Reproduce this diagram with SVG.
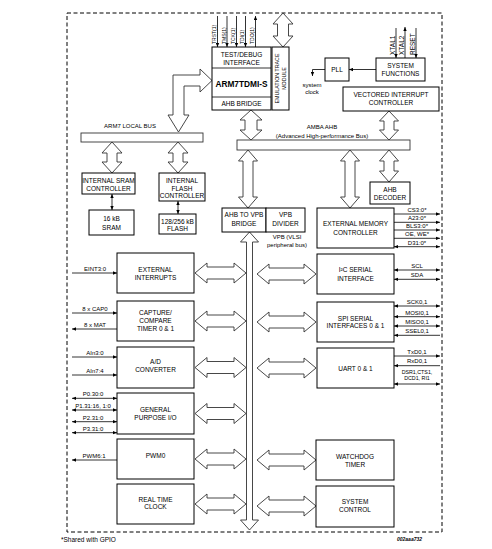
<svg xmlns="http://www.w3.org/2000/svg" width="492" height="549" viewBox="0 0 492 549">
<defs>
<style>
text{font-family:"Liberation Sans",Arial,sans-serif;fill:#000}
.b{font-size:6.5px;text-anchor:middle}
.s{font-size:6px;text-anchor:middle}
.p{font-size:5px}
.box{fill:#fff;stroke:#000;stroke-width:1}
.ba{fill:#fff;stroke:#333;stroke-width:0.9;stroke-linejoin:miter}
.ln{stroke:#000;stroke-width:0.8;fill:none}
.bd{fill:none;stroke:#000;stroke-width:1;stroke-dasharray:4 2.5}
</style>
<marker id="ah" viewBox="0 0 6 6" refX="6" refY="3" markerWidth="4" markerHeight="4" orient="auto-start-reverse" markerUnits="userSpaceOnUse"><path d="M0,0.5 L6,3 L0,5.5 z" fill="#000"/></marker>
</defs>
<rect width="492" height="549" fill="#fff"/>
<rect class="bd" x="67" y="13" width="375" height="519"/>

<g id="connectors">
<path class="ba" d="M283,13 L293,24 L288.5,24 L288.5,36 L293,36 L283,47 L273,36 L277.5,36 L277.5,24 L273,24 Z"/>
<path class="ba" d="M251,110 L262,120 L257,120 L257,130 L262,130 L251,140 L240,130 L245,130 L245,120 L240,120 Z"/>
<path class="ba" d="M248,150 L257.5,161 L253,161 L253,197 L257.5,197 L248,208 L238.5,197 L243,197 L243,161 L238.5,161 Z"/>
<path class="ba" d="M350,150 L359.5,161 L355,161 L355,197 L359.5,197 L350,208 L340.5,197 L345,197 L345,161 L340.5,161 Z"/>
<path class="ba" d="M389,150 L398.5,161 L394,161 L394,171 L398.5,171 L389,182 L379.5,171 L384,171 L384,161 L379.5,161 Z"/>
<path class="ba" d="M389,111 L398.5,121 L394,121 L394,130 L398.5,130 L389,140 L379.5,130 L384,130 L384,121 L379.5,121 Z"/>
<path class="ba" d="M112,142 L122,153 L117,153 L117,162 L122,162 L112,173 L102,162 L107,162 L107,153 L102,153 Z"/>
<path class="ba" d="M178,142 L188,153 L183,153 L183,162 L188,162 L178,173 L168,162 L173,162 L173,153 L168,153 Z"/>
<path class="ba" d="M212,80.5 L200,69 L200,75 L173,75 L173,115 L168,115 L178.5,132 L189,115 L184,115 L184,86 L200,86 L200,92 Z"/>
<path class="ba" d="M249.5,232 L258.5,242 L252.5,242 L252.5,520 L258.5,520 L249.5,530 L240.5,520 L246.5,520 L246.5,242 L240.5,242 Z"/>
<path class="ba" d="M195,273 L207,263 L207,267 L234,267 L234,263 L246,273 L234,283 L234,279 L207,279 L207,283 Z"/>
<path class="ba" d="M195,321 L207,311 L207,315 L234,315 L234,311 L246,321 L234,331 L234,327 L207,327 L207,331 Z"/>
<path class="ba" d="M195,367.5 L207,357.5 L207,361.5 L234,361.5 L234,357.5 L246,367.5 L234,377.5 L234,373.5 L207,373.5 L207,377.5 Z"/>
<path class="ba" d="M195,413.5 L207,403.5 L207,407.5 L234,407.5 L234,403.5 L246,413.5 L234,423.5 L234,419.5 L207,419.5 L207,423.5 Z"/>
<path class="ba" d="M195,459 L207,449 L207,453 L234,453 L234,449 L246,459 L234,469 L234,465 L207,465 L207,469 Z"/>
<path class="ba" d="M195,504 L207,494 L207,498 L234,498 L234,494 L246,504 L234,514 L234,510 L207,510 L207,514 Z"/>
<path class="ba" d="M257,274 L269,264 L269,268 L304,268 L304,264 L316,274 L304,284 L304,280 L269,280 L269,284 Z"/>
<path class="ba" d="M257,322 L269,312 L269,316 L304,316 L304,312 L316,322 L304,332 L304,328 L269,328 L269,332 Z"/>
<path class="ba" d="M257,368 L269,358 L269,362 L304,362 L304,358 L316,368 L304,378 L304,374 L269,374 L269,378 Z"/>
<path class="ba" d="M257,460 L269,450 L269,454 L304,454 L304,450 L316,460 L304,470 L304,466 L269,466 L269,470 Z"/>
<path class="ba" d="M257,506 L269,496 L269,500 L304,500 L304,496 L316,506 L304,516 L304,512 L269,512 L269,516 Z"/>

<line class="ln" x1="217.5" y1="16" x2="217.5" y2="47" marker-end="url(#ah)"/>
<line class="ln" x1="227" y1="16" x2="227" y2="47" marker-end="url(#ah)"/>
<line class="ln" x1="236.5" y1="16" x2="236.5" y2="47" marker-end="url(#ah)"/>
<line class="ln" x1="245.5" y1="16" x2="245.5" y2="47" marker-end="url(#ah)"/>
<line class="ln" x1="255.5" y1="47" x2="255.5" y2="16" marker-end="url(#ah)"/>
<line class="ln" x1="396" y1="28" x2="396" y2="58" marker-end="url(#ah)"/>
<line class="ln" x1="405" y1="58" x2="405" y2="27" marker-end="url(#ah)"/>
<line class="ln" x1="416" y1="28" x2="416" y2="58" marker-end="url(#ah)"/>
<line class="ln" x1="376" y1="69.5" x2="349" y2="69.5" marker-end="url(#ah)"/>
<polyline class="ln" points="325,69.5 312.5,69.5 312.5,76" marker-end="url(#ah)"/>
<line class="ln" x1="112" y1="194" x2="112" y2="210" marker-start="url(#ah)" marker-end="url(#ah)"/>
<line class="ln" x1="178" y1="201" x2="178" y2="214" marker-start="url(#ah)" marker-end="url(#ah)"/>
<line class="ln" x1="394" y1="214" x2="440" y2="214" marker-end="url(#ah)"/>
<line class="ln" x1="394" y1="222.3" x2="440" y2="222.3" marker-end="url(#ah)"/>
<line class="ln" x1="394" y1="230" x2="440" y2="230" marker-end="url(#ah)"/>
<line class="ln" x1="394" y1="238.3" x2="440" y2="238.3" marker-end="url(#ah)"/>
<line class="ln" x1="394" y1="246.7" x2="440" y2="246.7" marker-start="url(#ah)" marker-end="url(#ah)"/>
<line class="ln" x1="394" y1="270" x2="440" y2="270" marker-start="url(#ah)" marker-end="url(#ah)"/>
<line class="ln" x1="394" y1="279.3" x2="440" y2="279.3" marker-start="url(#ah)" marker-end="url(#ah)"/>
<line class="ln" x1="394" y1="306" x2="440" y2="306" marker-start="url(#ah)" marker-end="url(#ah)"/>
<line class="ln" x1="394" y1="316.7" x2="440" y2="316.7" marker-start="url(#ah)" marker-end="url(#ah)"/>
<line class="ln" x1="394" y1="326" x2="440" y2="326" marker-start="url(#ah)" marker-end="url(#ah)"/>
<line class="ln" x1="440" y1="335.3" x2="394" y2="335.3" marker-end="url(#ah)"/>
<line class="ln" x1="394" y1="356" x2="440" y2="356" marker-end="url(#ah)"/>
<line class="ln" x1="440" y1="365.7" x2="394" y2="365.7" marker-end="url(#ah)"/>
<line class="ln" x1="394" y1="384" x2="440" y2="384" marker-start="url(#ah)" marker-end="url(#ah)"/>
<line class="ln" x1="72" y1="273" x2="117" y2="273" marker-end="url(#ah)"/>
<line class="ln" x1="72" y1="313" x2="117" y2="313" marker-end="url(#ah)"/>
<line class="ln" x1="117" y1="329" x2="72" y2="329" marker-end="url(#ah)"/>
<line class="ln" x1="72" y1="357" x2="117" y2="357" marker-end="url(#ah)" stroke="#777"/>
<line class="ln" x1="72" y1="375" x2="117" y2="375" marker-end="url(#ah)"/>
<line class="ln" x1="72" y1="398.3" x2="117" y2="398.3" marker-start="url(#ah)" marker-end="url(#ah)"/>
<line class="ln" x1="72" y1="410" x2="117" y2="410" marker-start="url(#ah)" marker-end="url(#ah)"/>
<line class="ln" x1="72" y1="421.7" x2="117" y2="421.7" marker-start="url(#ah)" marker-end="url(#ah)"/>
<line class="ln" x1="72" y1="432.7" x2="117" y2="432.7" marker-start="url(#ah)" marker-end="url(#ah)"/>
<line class="ln" x1="117" y1="460" x2="72" y2="460" marker-end="url(#ah)"/>
</g>

<g id="pin-labels">
<text class="p" transform="translate(216,44) rotate(-90)">TRST(1)</text>
<text class="p" transform="translate(225.5,44) rotate(-90)">TMS(1)</text>
<text class="p" transform="translate(235,44) rotate(-90)">TCK(1)</text>
<text class="p" transform="translate(244,44) rotate(-90)">TDI(1)</text>
<text class="p" transform="translate(254,44) rotate(-90)">TDO(1)</text>
<text style="font-size:6.5px" transform="translate(394.5,55) rotate(-90)">XTAL1</text>
<text style="font-size:6.5px" transform="translate(403.5,55) rotate(-90)">XTAL2</text>
<text style="font-size:6.5px" transform="translate(414.5,55) rotate(-90)">RESET</text>
<text class="s" x="312" y="87">system</text>
<text class="s" x="312" y="94">clock</text>
<text class="s" x="417" y="212">CS3:0*</text>
<text class="s" x="417" y="220.2">A23:0*</text>
<text class="s" x="417" y="228">BLS3:0*</text>
<text class="s" x="417" y="236.2">OE, WE*</text>
<text class="s" x="417" y="244.6">D31:0*</text>
<text class="s" x="417" y="267.8">SCL</text>
<text class="s" x="417" y="277.2">SDA</text>
<text class="s" x="417" y="303.8">SCK0,1</text>
<text class="s" x="417" y="314.5">MOSI0,1</text>
<text class="s" x="417" y="324">MISO0,1</text>
<text class="s" x="417" y="333">SSEL0,1</text>
<text class="s" x="417" y="353.8">TxD0,1</text>
<text class="s" x="417" y="363.2">RxD0,1</text>
<text class="s" x="417" y="374" style="font-size:5.3px">DSR1,CTS1,</text>
<text class="s" x="417" y="380.3" style="font-size:5.3px">DCD1, RI1</text>
<text class="s" x="95" y="271">EINT3:0</text>
<text class="s" x="95" y="310.8">8 x CAP0</text>
<text class="s" x="95" y="327">8 x MAT</text>
<text class="s" x="95" y="355">AIn3:0</text>
<text class="s" x="95" y="372.6">AIn7:4</text>
<text class="s" x="93" y="396.3">P0.30:0</text>
<text class="s" x="93" y="407.8">P1.31:16, 1:0</text>
<text class="s" x="93" y="419.5">P2.31:0</text>
<text class="s" x="93" y="430.5">P3.31:0</text>
<text class="s" x="94" y="458">PWM6:1</text>
<text class="s" x="130" y="128.3">ARM7 LOCAL BUS</text>
<text class="s" x="322" y="129.3">AMBA AHB</text>
<text class="s" x="322" y="138">(Advanced High-performance Bus)</text>
<text class="s" x="287" y="239">VPB (VLSI</text>
<text class="s" x="287" y="246.5">peripheral bus)</text>
</g>

<g id="arm7-local-bus"><rect x="81" y="133" width="122" height="9" fill="#fff" stroke="#333" stroke-width="0.9"/></g>
<g id="amba-ahb"><rect x="237" y="140" width="173" height="10" fill="#fff" stroke="#333" stroke-width="0.9"/></g>

<g id="cpu">
<rect class="box" x="212" y="47" width="59" height="63"/>
<line class="ln" x1="212" y1="68" x2="271" y2="68"/>
<line class="ln" x1="212" y1="97" x2="271" y2="97"/>
<text class="b" x="241.5" y="57.3">TEST/DEBUG</text>
<text class="b" x="241.5" y="65">INTERFACE</text>
<text x="241.5" y="87.4" style="font-size:8.3px;font-weight:bold;text-anchor:middle">ARM7TDMI-S</text>
<text class="b" x="241.5" y="105.5">AHB BRIDGE</text>
</g>
<g id="etm">
<rect class="box" x="272" y="47" width="17" height="63"/>
<text style="font-size:5.3px;text-anchor:middle" transform="translate(279,78.5) rotate(-90)">EMULATION TRACE</text>
<text style="font-size:5.3px;text-anchor:middle" transform="translate(285.5,78.5) rotate(-90)">MODULE</text>
</g>
<g id="pll"><rect class="box" x="325" y="58" width="24" height="23"/><text class="b" x="337" y="72">PLL</text></g>
<g id="sysfn"><rect class="box" x="376" y="58" width="49" height="23"/><text class="b" x="400.5" y="68.3">SYSTEM</text><text class="b" x="400.5" y="75.8">FUNCTIONS</text></g>
<g id="vic"><rect class="box" x="343" y="87" width="96" height="24"/><text class="b" x="391" y="96.6">VECTORED INTERRUPT</text><text class="b" x="391" y="105">CONTROLLER</text></g>
<g id="sram-ctrl"><rect class="box" x="82" y="173" width="53" height="21"/><text class="b" x="108.5" y="183.3">INTERNAL SRAM</text><text class="b" x="108.5" y="191.3">CONTROLLER</text></g>
<g id="flash-ctrl"><rect class="box" x="159" y="173" width="46" height="28"/><text class="b" x="182" y="183">INTERNAL</text><text class="b" x="182" y="190.6">FLASH</text><text class="b" x="182" y="198.3">CONTROLLER</text></g>
<g id="sram"><rect class="box" x="89" y="210" width="45" height="25"/><text class="b" x="111.5" y="220.6">16  kB</text><text class="b" x="111.5" y="229.6">SRAM</text></g>
<g id="flash"><rect class="box" x="159" y="214" width="37" height="20"/><text class="b" x="177.5" y="223.5">128/256 kB</text><text class="b" x="177.5" y="231.3">FLASH</text></g>
<g id="ahb-vpb-bridge"><rect class="box" x="222" y="208" width="44" height="24"/><text class="b" x="244" y="217.3">AHB TO VPB</text><text class="b" x="244" y="225.6">BRIDGE</text></g>
<g id="vpb-divider"><rect class="box" x="266" y="208" width="39" height="24"/><text class="b" x="285.5" y="217.3">VPB</text><text class="b" x="285.5" y="225.6">DIVIDER</text></g>
<g id="ahb-decoder"><rect class="box" x="370" y="182" width="40" height="22"/><text class="b" x="390" y="191.6">AHB</text><text class="b" x="390" y="199.6">DECODER</text></g>
<g id="emc"><rect class="box" x="317" y="208" width="77" height="40"/><text class="b" x="355.5" y="226.3">EXTERNAL MEMORY</text><text class="b" x="355.5" y="235">CONTROLLER</text></g>
<g id="i2c"><rect class="box" x="317" y="254" width="77" height="40"/><text class="b" x="355.5" y="272.3">I²C SERIAL</text><text class="b" x="355.5" y="280.6">INTERFACE</text></g>
<g id="spi"><rect class="box" x="317" y="302" width="77" height="40"/><text class="b" x="355.5" y="320.6">SPI SERIAL</text><text class="b" x="355.5" y="328.3">INTERFACES 0 &amp; 1</text></g>
<g id="uart"><rect class="box" x="317" y="348" width="77" height="40"/><text class="b" x="355.5" y="370.6">UART 0 &amp; 1</text></g>
<g id="wdt"><rect class="box" x="316" y="440" width="78" height="40"/><text class="b" x="355" y="459">WATCHDOG</text><text class="b" x="355" y="467.3">TIMER</text></g>
<g id="sysctrl"><rect class="box" x="316" y="486" width="78" height="41"/><text class="b" x="355" y="504">SYSTEM</text><text class="b" x="355" y="512.3">CONTROL</text></g>
<g id="ext-int"><rect class="box" x="117" y="253" width="77" height="40"/><text class="b" x="155.5" y="271.6">EXTERNAL</text><text class="b" x="155.5" y="279.6">INTERRUPTS</text></g>
<g id="timer"><rect class="box" x="117" y="301" width="77" height="40"/><text class="b" x="155.5" y="315">CAPTURE/</text><text class="b" x="155.5" y="323">COMPARE</text><text class="b" x="155.5" y="331.3">TIMER 0 &amp; 1</text></g>
<g id="adc"><rect class="box" x="117" y="347" width="77" height="41"/><text class="b" x="155.5" y="364">A/D</text><text class="b" x="155.5" y="371.6">CONVERTER</text></g>
<g id="gpio"><rect class="box" x="117" y="393" width="77" height="41"/><text class="b" x="155.5" y="411.6">GENERAL</text><text class="b" x="155.5" y="419.6">PURPOSE I/O</text></g>
<g id="pwm"><rect class="box" x="117" y="439" width="77" height="40"/><text class="b" x="155.5" y="458.3">PWM0</text></g>
<g id="rtc"><rect class="box" x="117" y="484" width="77" height="40"/><text class="b" x="155.5" y="501.6">REAL TIME</text><text class="b" x="155.5" y="509">CLOCK</text></g>

<text x="61" y="542" style="font-size:6.5px">*Shared with GPIO</text>
<text x="397" y="541" style="font-size:5px;font-style:italic;font-weight:bold">002aaa732</text>
</svg>
